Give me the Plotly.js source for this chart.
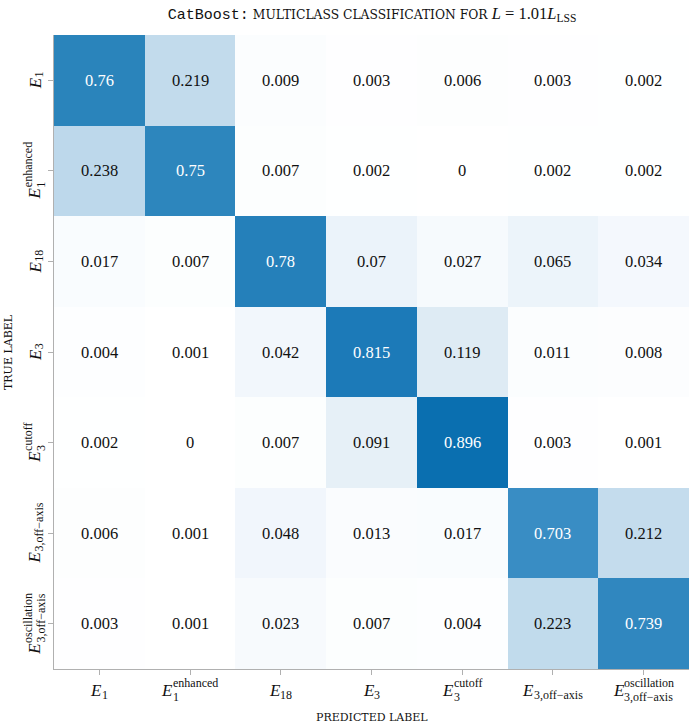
<!DOCTYPE html>
<html>
<head>
<meta charset="utf-8">
<script src="https://cdn.plot.ly/plotly-3.0.1.min.js"></script>
<style>body{margin:0;padding:0;background:#fff;}</style>
</head>
<body>
<div id="chart" style="width:689px;height:724px;"></div>
<script>
// ---- data ----
const categories = ["E1", "E1enh", "E18", "E3", "E3cut", "E3off", "E3osc"];
// tick labels: main symbol, subscript, superscript
const labelMain = ["E", "E", "E", "E", "E", "E", "E"];
const labelSub  = ["1", "1", "18", "3", "3", "3,off−axis", "3,off−axis"];
const labelSup  = ["", "enhanced", "", "", "cutoff", "", "oscillation"];

const rowE1    = [0.76, 0.219, 0.009, 0.003, 0.006, 0.003, 0.002];
const rowE1enh = [0.238, 0.75, 0.007, 0.002, 0, 0.002, 0.002];
const rowE18   = [0.017, 0.007, 0.78, 0.07, 0.027, 0.065, 0.034];
const rowE3    = [0.004, 0.001, 0.042, 0.815, 0.119, 0.011, 0.008];
const rowE3cut = [0.002, 0, 0.007, 0.091, 0.896, 0.003, 0.001];
const rowE3off = [0.006, 0.001, 0.048, 0.013, 0.017, 0.703, 0.212];
const rowE3osc = [0.003, 0.001, 0.023, 0.007, 0.004, 0.223, 0.739];

const z = [rowE1, rowE1enh, rowE18, rowE3, rowE3cut, rowE3off, rowE3osc];

const colorscale = [
  [0, '#ffffff'], [0.01, '#fbfdfe'], [0.03, '#f5f9fd'], [0.07, '#ebf3fa'],
  [0.12, '#deebf4'], [0.22, '#c2dbec'], [0.4, '#8fc0de'], [0.55, '#5ea5d2'],
  [0.70, '#3a8dc5'], [0.76, '#2a84bb'], [0.815, '#1c7ab8'], [0.896, '#0a6fb0'],
  [1, '#08589e']
];

const serif = "Liberation Serif";
const scFont = "DejaVu Serif";
const ink = '#111111';
const MAIN_SIZE = 17, SCRIPT_SIZE = 12;

// ---- measure helper ----
const cv = document.createElement('canvas').getContext('2d');
function tw(text, size, italic) {
  cv.font = (italic ? 'italic ' : '') + size + 'px "' + serif + '"';
  return cv.measureText(text).width;
}

const annotations = [];

// cell values
z.forEach((row, i) => {
  row.forEach((v, j) => {
    annotations.push({
      x: categories[j], y: categories[i], xref: 'x', yref: 'y',
      text: String(v), showarrow: false,
      font: {family: serif, size: 16.5, color: v > 0.5 ? '#ffffff' : ink}
    });
  });
});

// tick labels built from main + stacked sub/sup
categories.forEach((c, k) => {
  const wE = tw(labelMain[k], MAIN_SIZE, true) + 1;
  const wSub = tw(labelSub[k], SCRIPT_SIZE, false);
  const wSup = labelSup[k] ? tw(labelSup[k], SCRIPT_SIZE, false) : 0;
  const T = wE + Math.max(wSub, wSup);
  const stacked = !!labelSup[k];
  const subOff = stacked ? 7 : 5;
  const supOff = 7;
  // x axis (horizontal)
  const eCx = -T / 2 + wE / 2;
  annotations.push({x: c, xref: 'x', y: 0, yref: 'paper', xanchor: 'center', yanchor: 'middle',
    xshift: eCx, yshift: -21, showarrow: false, text: '<i>' + labelMain[k] + '</i>',
    font: {family: serif, size: MAIN_SIZE, color: ink}});
  annotations.push({x: c, xref: 'x', y: 0, yref: 'paper', xanchor: 'center', yanchor: 'middle',
    xshift: -T / 2 + wE + wSub / 2, yshift: -21 - subOff, showarrow: false, text: labelSub[k],
    font: {family: serif, size: SCRIPT_SIZE, color: ink}});
  if (stacked) {
    annotations.push({x: c, xref: 'x', y: 0, yref: 'paper', xanchor: 'center', yanchor: 'middle',
      xshift: -T / 2 + wE + wSup / 2, yshift: -21 + supOff, showarrow: false, text: labelSup[k],
      font: {family: serif, size: SCRIPT_SIZE, color: ink}});
  }
  // y axis (rotated, reading upward)
  annotations.push({y: c, yref: 'y', x: 0, xref: 'paper', xanchor: 'center', yanchor: 'middle',
    textangle: -90, yshift: -T / 2 + wE / 2, xshift: -19, showarrow: false,
    text: '<i>' + labelMain[k] + '</i>', font: {family: serif, size: MAIN_SIZE, color: ink}});
  annotations.push({y: c, yref: 'y', x: 0, xref: 'paper', xanchor: 'center', yanchor: 'middle',
    textangle: -90, yshift: -T / 2 + wE + wSub / 2, xshift: -19 + subOff - 1, showarrow: false,
    text: labelSub[k], font: {family: serif, size: SCRIPT_SIZE, color: ink}});
  if (stacked) {
    annotations.push({y: c, yref: 'y', x: 0, xref: 'paper', xanchor: 'center', yanchor: 'middle',
      textangle: -90, yshift: -T / 2 + wE + wSup / 2, xshift: -19 - supOff, showarrow: false,
      text: labelSup[k], font: {family: serif, size: SCRIPT_SIZE, color: ink}});
  }
});

// axis titles (small caps look)
annotations.push({x: 0.5, xref: 'paper', y: 0, yref: 'paper', yshift: -48, xanchor: 'center', yanchor: 'middle',
  showarrow: false, text: 'PREDICTED LABEL', font: {family: scFont, size: 11, color: ink}});
annotations.push({x: 0, xref: 'paper', xshift: -46, y: 0.5, yref: 'paper', xanchor: 'center', yanchor: 'middle',
  textangle: -90, showarrow: false, text: 'TRUE LABEL', font: {family: scFont, size: 11, color: ink}});

const data = [{
  type: 'heatmap',
  x: categories, y: categories, z: z,
  zmin: 0, zmax: 1,
  colorscale: colorscale,
  showscale: false,
  hoverinfo: 'skip'
}];

const layout = {
  width: 689, height: 724,
  margin: {l: 54, r: 0, t: 35, b: 55},
  paper_bgcolor: '#ffffff', plot_bgcolor: '#ffffff',
  font: {family: serif, color: ink},
  title: {
    text: "<span style=\"font-family:'Liberation Mono';font-size:15px\">CatBoost:</span> <span style=\"font-family:'DejaVu Serif';font-size:12.3px\">MULTICLASS CLASSIFICATION FOR</span> <i>L</i> = 1.01<i>L</i><sub>LSS</sub>",
    font: {family: serif, size: 16.5, color: ink},
    x: 0.54, xanchor: 'center', y: 0.982, yanchor: 'middle'
  },
  xaxis: {
    type: 'category',
    showticklabels: false,
    ticks: 'outside', ticklen: 5, tickcolor: '#b0b0b0', tickwidth: 1,
    showline: true, linecolor: '#b0b0b0', linewidth: 1,
    showgrid: false, zeroline: false, fixedrange: true
  },
  yaxis: {
    type: 'category', autorange: 'reversed',
    showticklabels: false,
    ticks: 'outside', ticklen: 5, tickcolor: '#b0b0b0', tickwidth: 1,
    showline: true, linecolor: '#b0b0b0', linewidth: 1,
    showgrid: false, zeroline: false, fixedrange: true
  },
  annotations: annotations
};

Plotly.newPlot('chart', data, layout, {displayModeBar: false, staticPlot: true});
</script>
</body>
</html>
